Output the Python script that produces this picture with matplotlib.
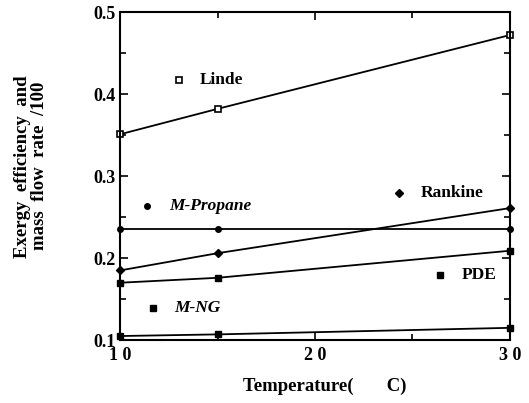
import matplotlib
matplotlib.use("Agg")
import matplotlib.pyplot as plt
from matplotlib.ticker import MultipleLocator, FuncFormatter

plt.rcParams["font.family"] = ["Liberation Serif", "DejaVu Serif"]
plt.rcParams["font.weight"] = "bold"

# ===================================== DATOS =====================================
temps = [10, 15, 30]

linde = [0.351, 0.382, 0.472]
m_propane = [0.235, 0.235, 0.235]
rankine = [0.185, 0.206, 0.261]
pde = [0.170, 0.176, 0.209]
m_ng = [0.105, 0.107, 0.115]

# etiquetas dentro del grafico: (nombre, x marcador, y marcador)
label_names = ["Linde", "M-Propane", "Rankine", "PDE", "M-NG"]
label_x = [13.0, 11.4, 24.3, 26.4, 11.7]
label_y = [0.417, 0.263, 0.280, 0.180, 0.139]

series = [
    (linde, dict(marker="s", mfc="white", mec="black", ms=4.5, mew=1.2)),
    (m_propane, dict(marker="o", mfc="black", mec="black", ms=4)),
    (rankine, dict(marker="D", mfc="black", mec="black", ms=4)),
    (pde, dict(marker="s", mfc="black", mec="black", ms=5)),
    (m_ng, dict(marker="s", mfc="black", mec="black", ms=5)),
]
label_italic = [False, True, False, False, True]

# ===================================== GRAFICO =====================================
fig = plt.figure(figsize=(5.29, 4.03), dpi=100)
ax = fig.add_axes([0.227, 0.156, 0.737, 0.814])

for (vals, style), name, lx, ly, it in zip(series, label_names, label_x, label_y, label_italic):
    ax.plot(temps, vals, color="black", lw=1.3, clip_on=False, **style)
    ax.plot([lx], [ly], linestyle="none", **style)
    ax.text(lx + 1.1, ly, name, fontsize=12.5, fontweight="bold",
            fontstyle="italic" if it else "normal", va="center", ha="left")

ax.set_xlim(10, 30)
ax.set_ylim(0.1, 0.5)
ax.xaxis.set_major_locator(MultipleLocator(10))
ax.xaxis.set_minor_locator(MultipleLocator(5))
ax.yaxis.set_major_locator(MultipleLocator(0.1))
ax.yaxis.set_minor_locator(MultipleLocator(0.05))
ax.tick_params(which="both", direction="in", top=True, right=True, width=1.2)
ax.tick_params(which="major", length=6, labelsize=13)
ax.tick_params(axis="x", which="major", pad=5)
ax.tick_params(axis="y", which="major", pad=3)
ax.tick_params(which="minor", length=4)
for sp in ax.spines.values():
    sp.set_linewidth(1.5)

ax.xaxis.set_major_formatter(FuncFormatter(lambda v, p: " ".join(str(int(v)))))
ax.yaxis.set_major_formatter(FuncFormatter(lambda v, p: f"{v:.1f}"))

ax.set_xlabel("Temperature(       C)", fontsize=13.5, fontweight="bold")
ax.xaxis.set_label_coords(0.526, -0.115)
ax.set_ylabel("Exergy  efficiency  and\nmass  flow  rate  /100", fontsize=13.5,
              fontweight="bold", linespacing=1.0)
ax.yaxis.set_label_coords(-0.185, 0.53)

fig.savefig("out.png", dpi=100)
